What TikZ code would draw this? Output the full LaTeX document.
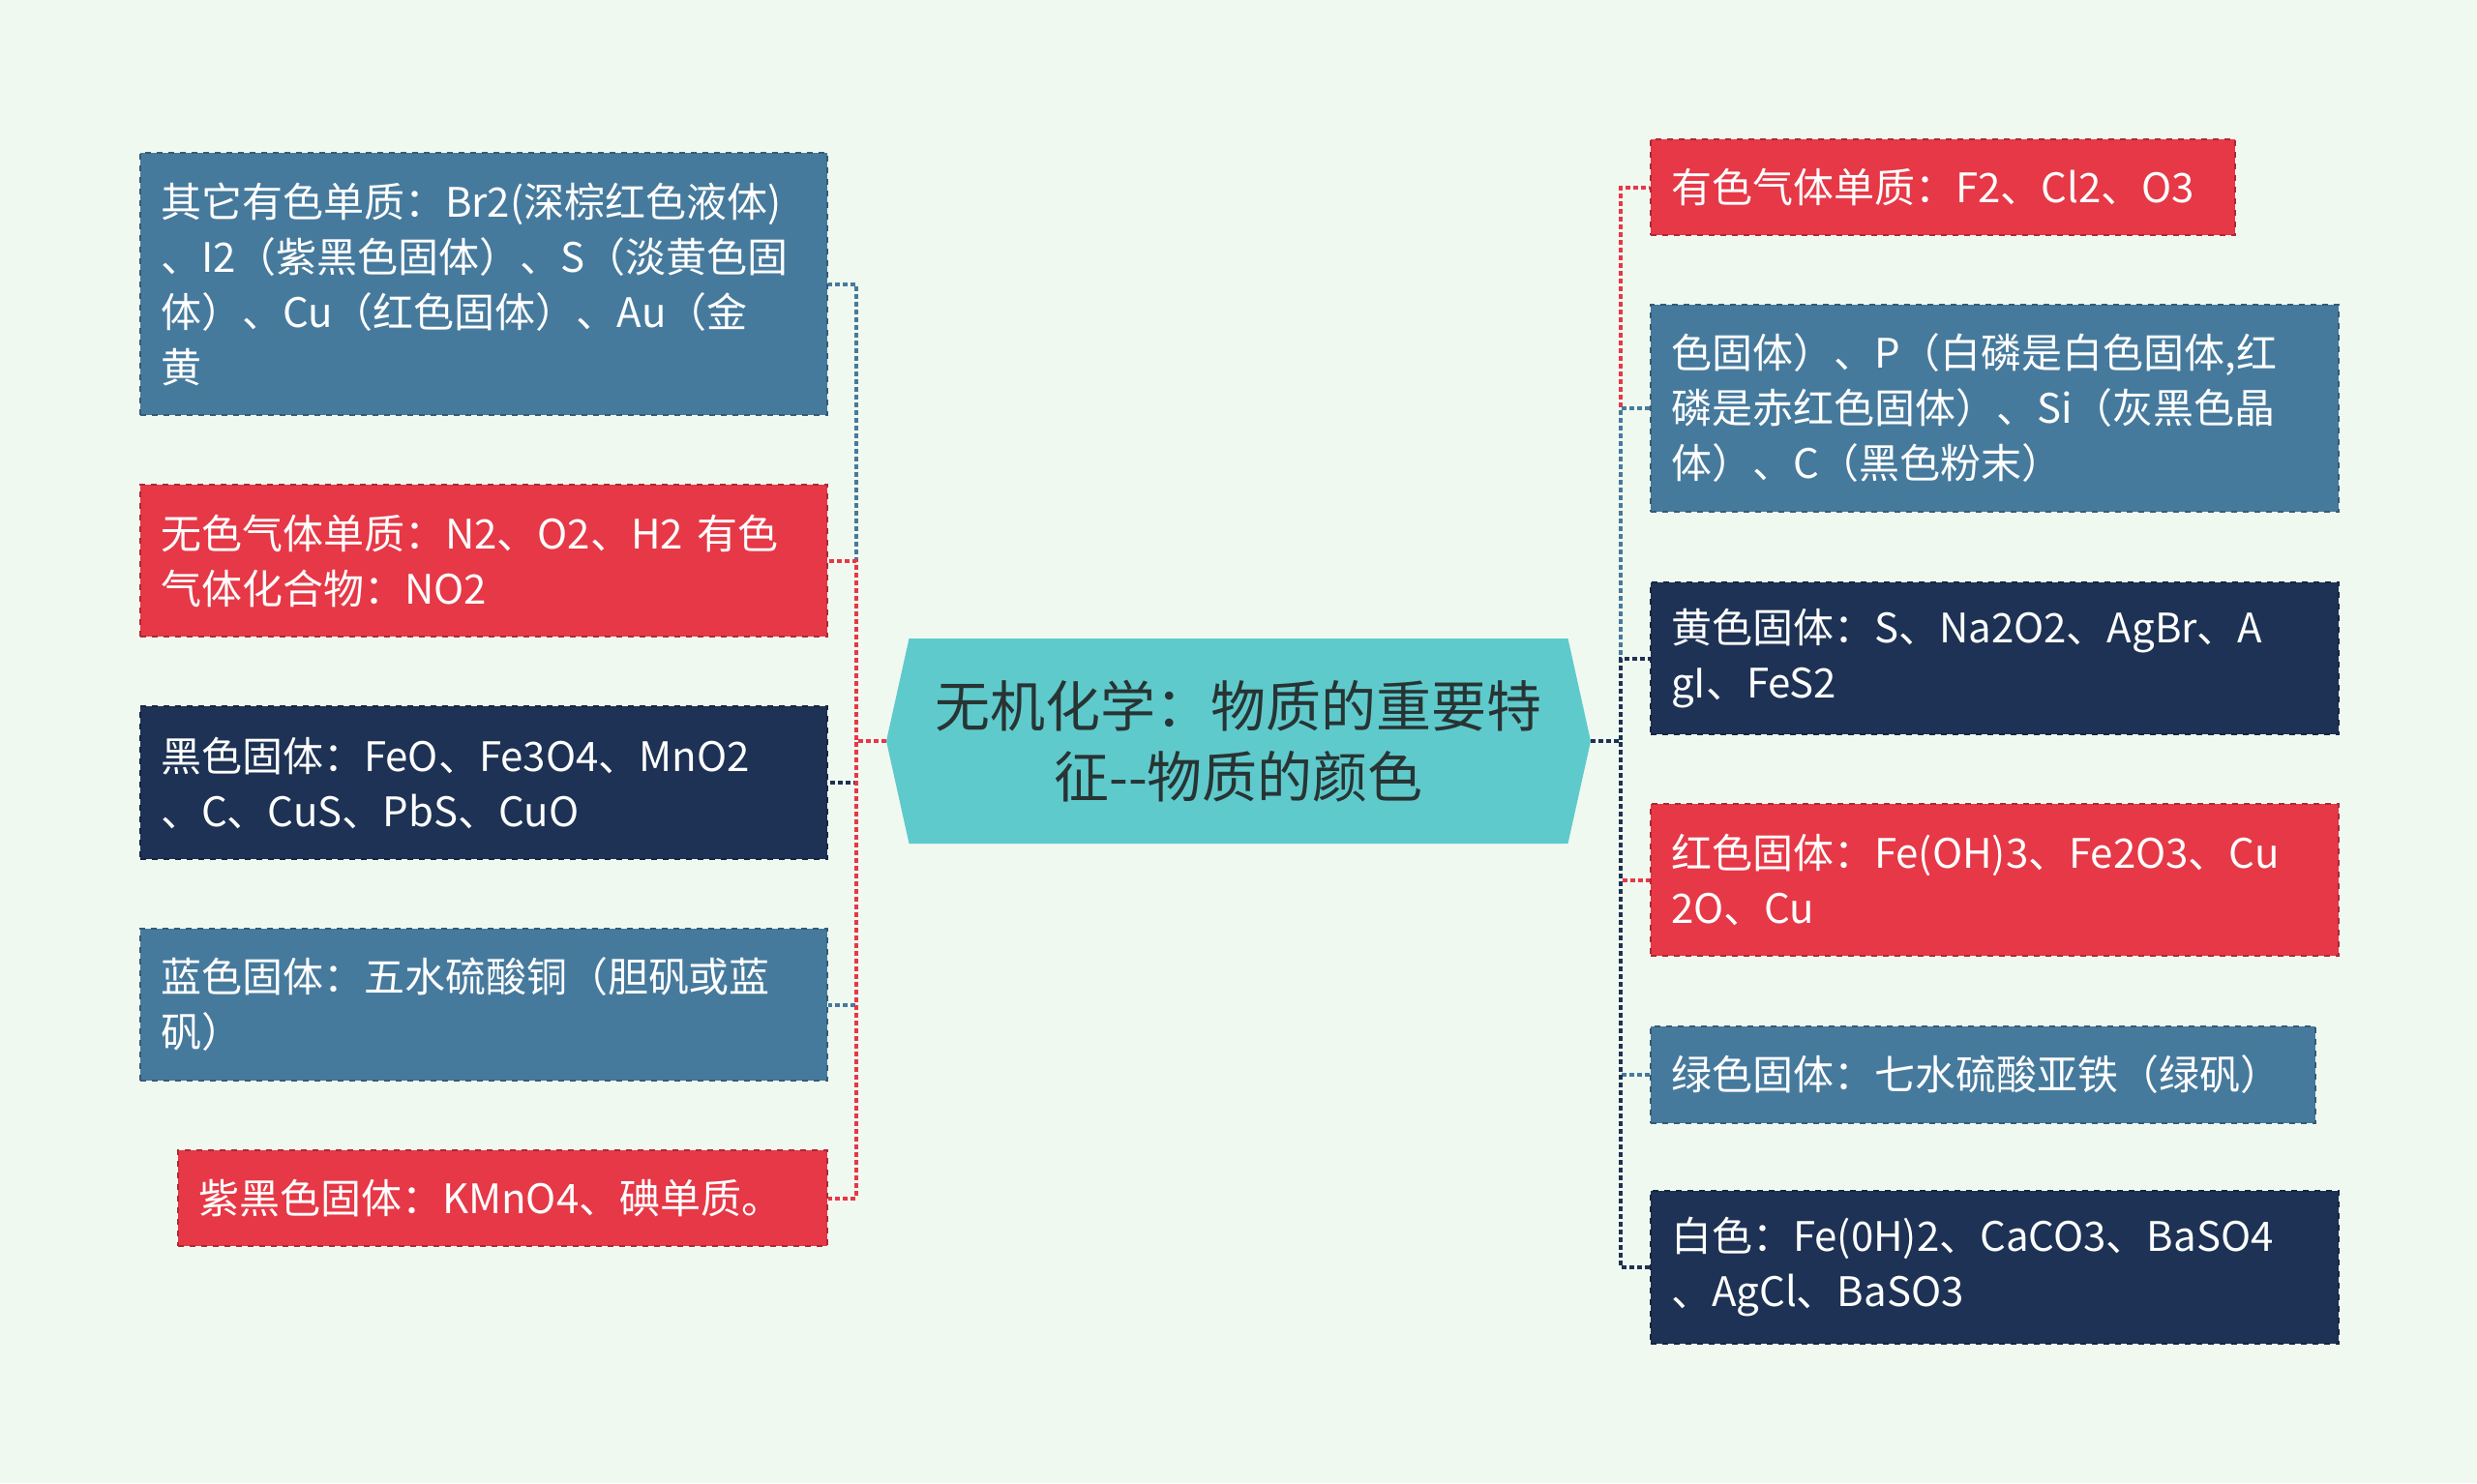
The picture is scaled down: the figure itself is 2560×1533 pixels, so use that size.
\documentclass[tikz,border=0pt]{standalone}
\usepackage{fontspec}
\setmainfont{Noto Sans CJK SC}
\usetikzlibrary{shapes.symbols}
\definecolor{bgc}{RGB}{240,249,240}
\definecolor{redc}{RGB}{230,56,70}
\definecolor{bluec}{RGB}{70,122,157}
\definecolor{navyc}{RGB}{29,50,84}
\definecolor{tealc}{RGB}{95,202,204}
\definecolor{inkc}{RGB}{40,52,52}
\tikzset{
  box/.style={fill=#1, draw=#1!75!black, dashed, line width=1pt, text=white, align=left,
    inner xsep=10.5pt, inner ysep=0pt, anchor=west, font=\fontsize{21pt}{28.5pt}\selectfont},
  conn/.style={draw=#1, line width=2pt, dash pattern=on 2.5pt off 1.5pt}
}

\begin{document}
\begin{tikzpicture}[x=0.5pt,y=-0.5pt]
  \fill[bgc] (0,0) rectangle (2560,1533);
  \node[signal, signal to=east and west, signal pointer angle=155, fill=tealc, text=inkc, align=center,
    minimum width=364pt, minimum height=106pt, inner sep=0pt,
    font=\fontsize{28.5pt}{36.5pt}\selectfont] (root) at (1280,766) {无机化学：物质的重要特\\征-{}-物质的颜色};
  \coordinate (sl) at (885,766);
  \coordinate (sr) at (1675,766);

  \node[box=bluec, text width=334pt, minimum height=135.5pt] (l1) at (144,293.5) {其它有色单质：Br2(深棕红色液体)\\、I2（紫黑色固体）、S（淡黄色固\\体）、Cu（红色固体）、Au（金\\黄};
  \node[box=redc, text width=334pt, minimum height=78.5pt] (l2) at (144,579.5) {无色气体单质：N2、O2、H2~有色\\气体化合物：NO2};
  \node[box=navyc, text width=334pt, minimum height=79pt] (l3) at (144,809) {黑色固体：FeO、Fe3O4、MnO2\\、C、CuS、PbS、CuO};
  \node[box=bluec, text width=334pt, minimum height=78.5pt] (l4) at (144,1038.5) {蓝色固体：五水硫酸铜（胆矾或蓝\\矾）};
  \node[box=redc, text width=314.5pt, minimum height=49.5pt] (l5) at (183,1238.5) {紫黑色固体：KMnO4、碘单质。};

  \node[box=redc, text width=281pt, minimum height=49.5pt] (r1) at (1705,193.5) {有色气体单质：F2、Cl2、O3};
  \node[box=bluec, text width=334.5pt, minimum height=107pt] (r2) at (1705,422) {色固体）、P（白磷是白色固体,红\\磷是赤红色固体）、Si（灰黑色晶\\体）、C（黑色粉末）};
  \node[box=navyc, text width=334.5pt, minimum height=78.5pt] (r3) at (1705,680.5) {黄色固体：S、Na2O2、AgBr、A\\gI、FeS2};
  \node[box=redc, text width=334.5pt, minimum height=78.5pt] (r4) at (1705,909.5) {红色固体：Fe(OH)3、Fe2O3、Cu\\2O、Cu};
  \node[box=bluec, text width=322.5pt, minimum height=50pt] (r5) at (1705,1110.5) {绿色固体：七水硫酸亚铁（绿矾）};
  \node[box=navyc, text width=334.5pt, minimum height=79pt] (r6) at (1705,1310) {白色：Fe(0H)2、CaCO3、BaSO4\\、AgCl、BaSO3};

  \draw[conn=bluec] (root.west) -- (sl) |- (l1.east);
  \draw[conn=redc] (root.west) -- (sl) |- (l2.east);
  \draw[conn=navyc] (root.west) -- (sl) |- (l3.east);
  \draw[conn=bluec] (root.west) -- (sl) |- (l4.east);
  \draw[conn=redc] (root.west) -- (sl) |- (l5.east);

  \draw[conn=redc] (root.east) -- (sr) |- (r1.west);
  \draw[conn=bluec] (root.east) -- (sr) |- (r2.west);
  \draw[conn=navyc] (root.east) -- (sr) |- (r3.west);
  \draw[conn=redc] (root.east) -- (sr) |- (r4.west);
  \draw[conn=bluec] (root.east) -- (sr) |- (r5.west);
  \draw[conn=navyc] (root.east) -- (sr) |- (r6.west);
\end{tikzpicture}
\end{document}
